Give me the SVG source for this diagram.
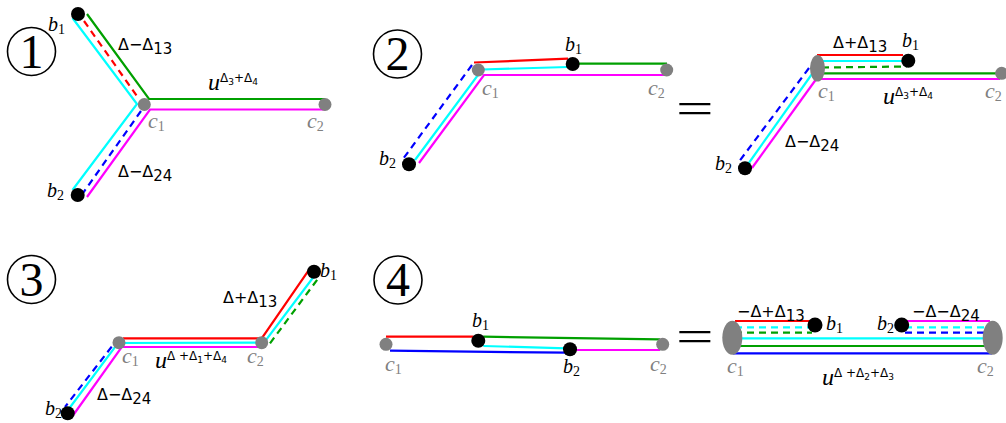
<svg xmlns="http://www.w3.org/2000/svg" width="1006" height="423" viewBox="0 0 1006 423">
<style>
line,polyline{fill:none;stroke-width:2.2}
.r{stroke:#ff0000}.g{stroke:#00a000}.c{stroke:#00ffff}.m{stroke:#ff00ff}.bl{stroke:#0000ff}
.d{stroke-dasharray:7 5}
.gray{fill:#808080}.blk{fill:#000}
.lab{font-family:"Liberation Serif",serif;font-style:italic;font-size:20px}
.glab{fill:#808080;font-size:22px}
.sub{font-style:normal;font-size:14px}
.dl{font-family:"DejaVu Sans",sans-serif;font-size:16px}
.ds{font-size:15px}
.u{font-family:"Liberation Serif",serif;font-style:italic;font-size:24px}
.sup{font-family:"DejaVu Sans",sans-serif;font-style:normal;font-size:12px}
.supd{font-family:"DejaVu Sans",sans-serif;font-style:normal;font-size:9px}
.num{font-family:"Liberation Serif",serif;font-size:48px;text-anchor:middle}
.eq{font-family:"Liberation Serif",serif;font-size:46px}
.ring{fill:none;stroke:#000;stroke-width:1.6}
</style>

<g id="panel-numbers">
<circle class="ring" cx="31.5" cy="51.5" r="24"/><text class="num" x="31.5" y="67.5">1</text>
<circle class="ring" cx="397.5" cy="54" r="24"/><text class="num" x="397.5" y="70">2</text>
<circle class="ring" cx="31.5" cy="279.5" r="24"/><text class="num" x="31.5" y="295.5">3</text>
<circle class="ring" cx="398" cy="280" r="24"/><text class="num" x="398" y="296">4</text>
<text class="eq" transform="translate(676,124) scale(1.45,1)">=</text>
<text class="eq" transform="translate(676,352) scale(1.45,1)">=</text>
</g>

<g id="connectors">
<!-- panel 1 -->
<polyline class="g" points="87,14 149,99 325,99"/>
<polyline class="c" points="72.5,18 137,104 72.5,190"/>
<line class="r d" x1="84" y1="21" x2="139" y2="99"/>
<line class="bl d" x1="141" y1="111" x2="83" y2="193"/>
<polyline class="m" points="325,109.5 150,109.5 87,197"/>
<!-- panel 2 left -->
<line class="r" x1="474" y1="62.5" x2="568" y2="58.7"/>
<line class="g" x1="578" y1="63.7" x2="667" y2="63.7"/>
<polyline class="c" points="568,67 482,69.5 415,160"/>
<line class="bl d" x1="472" y1="65" x2="403" y2="159"/>
<polyline class="m" points="667,75 484,75 419,163"/>
<!-- panel 2 right -->
<line class="r" x1="817" y1="55" x2="903" y2="55"/>
<line class="c" x1="818" y1="61" x2="903" y2="61"/>
<line class="g d" x1="822" y1="67.5" x2="907" y2="66.5"/>
<line class="g" x1="823" y1="73.3" x2="1000" y2="73.3"/>
<line class="m" x1="820" y1="79" x2="1000" y2="79"/>
<line class="bl d" x1="809" y1="68" x2="738" y2="163"/>
<line class="c" x1="812" y1="74" x2="746.7" y2="166"/>
<line class="m" x1="817" y1="78" x2="752" y2="168"/>
<!-- panel 3 -->
<polyline class="r" points="123,338.3 261.7,338.3 310,268.3"/>
<polyline class="c" points="68,410 118,343 264,342.6 315,275"/>
<line class="g d" x1="270" y1="343.3" x2="318.3" y2="278.3"/>
<polyline class="m" points="73.3,415 121.7,347 262,347"/>
<line class="bl d" x1="111.7" y1="346.7" x2="65" y2="407"/>
<!-- panel 4 left -->
<line class="r" x1="386" y1="336.7" x2="473.3" y2="336.7"/>
<line class="g" x1="483.3" y1="336.7" x2="660" y2="339.3"/>
<line class="c" x1="483.3" y1="346" x2="566.7" y2="348.3"/>
<line class="bl" x1="390" y1="350.7" x2="566.7" y2="352.7"/>
<line class="m" x1="575" y1="350" x2="660" y2="350"/>
<!-- panel 4 right -->
<line class="r" x1="735" y1="321" x2="812" y2="321"/>
<line class="c d" x1="735" y1="327.3" x2="812" y2="327.3"/>
<line class="g d" x1="735" y1="332.7" x2="812" y2="332.7"/>
<line class="c" x1="733" y1="338.3" x2="992" y2="338.3"/>
<line class="g" x1="733" y1="346" x2="992" y2="346"/>
<line class="bl" x1="733" y1="353.3" x2="992" y2="353.3"/>
<line class="m" x1="905" y1="321" x2="990" y2="321"/>
<line class="c d" x1="905" y1="327.3" x2="990" y2="327.3"/>
<line class="bl d" x1="905" y1="332.7" x2="990" y2="332.7"/>
</g>

<g id="edge-labels">
<text class="dl" x="118" y="50">Δ−Δ<tspan class="ds" dy="4">13</tspan></text>
<text class="dl" x="118" y="176.5">Δ−Δ<tspan class="ds" dy="4">24</tspan></text>
<text x="208" y="90"><tspan class="u">u</tspan><tspan class="sup" dy="-8">Δ</tspan><tspan class="supd" dy="2.5">3</tspan><tspan class="sup" dy="-2.5">+Δ</tspan><tspan class="supd" dy="2.5">4</tspan></text>
<text class="dl" x="833" y="48.3">Δ+Δ<tspan class="ds" dy="4">13</tspan></text>
<text class="dl" x="785" y="147.3">Δ−Δ<tspan class="ds" dy="4">24</tspan></text>
<text x="883" y="104.3"><tspan class="u">u</tspan><tspan class="sup" dy="-8">Δ</tspan><tspan class="supd" dy="2.5">3</tspan><tspan class="sup" dy="-2.5">+Δ</tspan><tspan class="supd" dy="2.5">4</tspan></text>
<text class="dl" x="223" y="302.7">Δ+Δ<tspan class="ds" dy="4">13</tspan></text>
<text class="dl" x="97" y="400">Δ−Δ<tspan class="ds" dy="4">24</tspan></text>
<text x="155" y="368.3"><tspan class="u">u</tspan><tspan class="sup" dy="-8">Δ +Δ</tspan><tspan class="supd" dy="2.5">1</tspan><tspan class="sup" dy="-2.5">+Δ</tspan><tspan class="supd" dy="2.5">4</tspan></text>
<text class="dl" x="737" y="316.7">−Δ+Δ<tspan class="ds" dy="4">13</tspan></text>
<text class="dl" x="912" y="316.7">−Δ−Δ<tspan class="ds" dy="4">24</tspan></text>
<text x="822" y="385"><tspan class="u">u</tspan><tspan class="sup" dy="-8">Δ +Δ</tspan><tspan class="supd" dy="2.5">2</tspan><tspan class="sup" dy="-2.5">+Δ</tspan><tspan class="supd" dy="2.5">3</tspan></text>
</g>

<!-- panel 1 nodes -->
<g id="p1-b1"><circle class="blk" cx="78" cy="14" r="7"/><text class="lab" x="48" y="31">b<tspan class="sub" dy="3">1</tspan></text></g>
<g id="p1-c1"><circle class="gray" cx="144.3" cy="104.5" r="6.5"/><text class="lab glab" x="148" y="128">c<tspan class="sub" dy="3">1</tspan></text></g>
<g id="p1-c2"><circle class="gray" cx="325" cy="104.5" r="6.5"/><text class="lab glab" x="307" y="128">c<tspan class="sub" dy="3">2</tspan></text></g>
<g id="p1-b2"><circle class="blk" cx="77.7" cy="195" r="7"/><text class="lab" x="47" y="197">b<tspan class="sub" dy="3">2</tspan></text></g>
<!-- panel 2 left nodes -->
<g id="p2a-c1"><circle class="gray" cx="478.3" cy="70" r="6.5"/><text class="lab glab" x="482" y="95">c<tspan class="sub" dy="3">1</tspan></text></g>
<g id="p2a-b1"><circle class="blk" cx="572.7" cy="64" r="7"/><text class="lab" x="565" y="50.7">b<tspan class="sub" dy="3">1</tspan></text></g>
<g id="p2a-c2"><circle class="gray" cx="666.7" cy="70" r="6.5"/><text class="lab glab" x="648" y="95">c<tspan class="sub" dy="3">2</tspan></text></g>
<g id="p2a-b2"><circle class="blk" cx="409" cy="164.3" r="7"/><text class="lab" x="379" y="165">b<tspan class="sub" dy="3">2</tspan></text></g>
<!-- panel 2 right nodes -->
<g id="p2b-c1"><ellipse class="gray" cx="817.5" cy="68.3" rx="7.5" ry="13.3"/><text class="lab glab" x="818" y="98.3">c<tspan class="sub" dy="3">1</tspan></text></g>
<g id="p2b-b1"><circle class="blk" cx="908.3" cy="60.7" r="7"/><text class="lab" x="902" y="47.3">b<tspan class="sub" dy="3">1</tspan></text></g>
<g id="p2b-c2"><circle class="gray" cx="1001.7" cy="73.3" r="6.5"/><text class="lab glab" x="985" y="98.3">c<tspan class="sub" dy="3">2</tspan></text></g>
<g id="p2b-b2"><circle class="blk" cx="745" cy="168.3" r="7"/><text class="lab" x="715" y="170">b<tspan class="sub" dy="3">2</tspan></text></g>
<!-- panel 3 nodes -->
<g id="p3-c1"><circle class="gray" cx="119" cy="342.7" r="6.5"/><text class="lab glab" x="122" y="363.3">c<tspan class="sub" dy="3">1</tspan></text></g>
<g id="p3-c2"><circle class="gray" cx="261.7" cy="342.7" r="6.5"/><text class="lab glab" x="247" y="363.3">c<tspan class="sub" dy="3">2</tspan></text></g>
<g id="p3-b1"><circle class="blk" cx="314" cy="271.7" r="7"/><text class="lab" x="320" y="277.3">b<tspan class="sub" dy="3">1</tspan></text></g>
<g id="p3-b2"><circle class="blk" cx="67.7" cy="413.3" r="7"/><text class="lab" x="45" y="415">b<tspan class="sub" dy="3">2</tspan></text></g>
<!-- panel 4 left nodes -->
<g id="p4a-c1"><circle class="gray" cx="386" cy="344.3" r="6.5"/><text class="lab glab" x="385" y="371">c<tspan class="sub" dy="3">1</tspan></text></g>
<g id="p4a-b1"><circle class="blk" cx="478.3" cy="340.7" r="7"/><text class="lab" x="472" y="327.3">b<tspan class="sub" dy="3">1</tspan></text></g>
<g id="p4a-b2"><circle class="blk" cx="570" cy="349.3" r="7"/><text class="lab" x="563" y="373.3">b<tspan class="sub" dy="3">2</tspan></text></g>
<g id="p4a-c2"><circle class="gray" cx="662.7" cy="344.3" r="6.5"/><text class="lab glab" x="650" y="371">c<tspan class="sub" dy="3">2</tspan></text></g>
<!-- panel 4 right nodes -->
<g id="p4b-c1"><ellipse class="gray" cx="732.3" cy="337.7" rx="10" ry="17"/><text class="lab glab" x="727" y="373.3">c<tspan class="sub" dy="3">1</tspan></text></g>
<g id="p4b-c2"><ellipse class="gray" cx="992.7" cy="337.7" rx="10" ry="17"/><text class="lab glab" x="977" y="373.3">c<tspan class="sub" dy="3">2</tspan></text></g>
<g id="p4b-b1"><circle class="blk" cx="815" cy="325" r="7.5"/><text class="lab" x="826" y="330">b<tspan class="sub" dy="3">1</tspan></text></g>
<g id="p4b-b2"><circle class="blk" cx="901.7" cy="325" r="7.5"/><text class="lab" x="877" y="330">b<tspan class="sub" dy="3">2</tspan></text></g>
</svg>
